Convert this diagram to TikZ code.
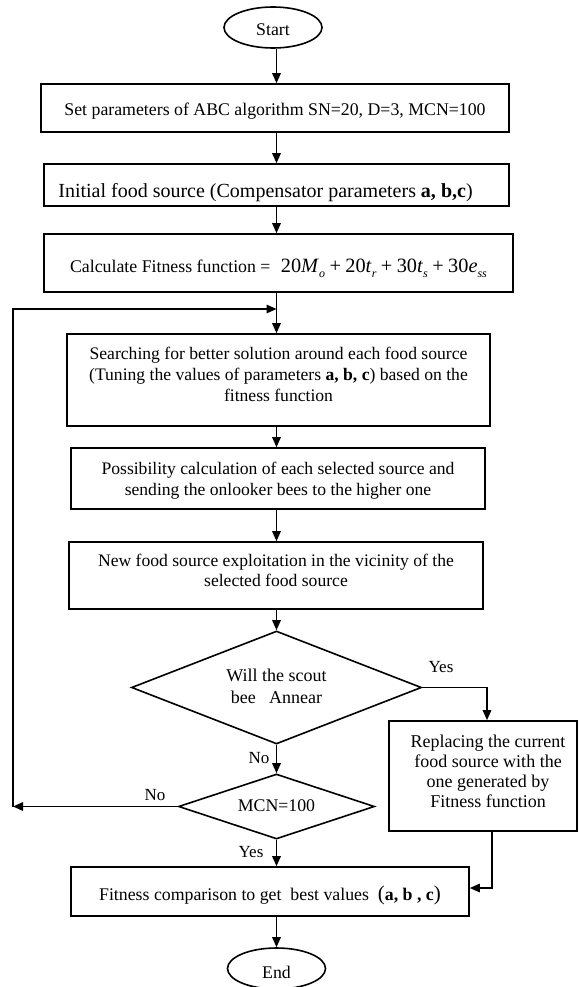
\documentclass[tikz,border=0pt]{standalone}
\usepackage{fontspec}
\setmainfont{Liberation Serif}
\usetikzlibrary{shapes.geometric,arrows.meta}
\newcommand{\lns}[1]{\begin{tabular}[t]{@{}c@{}}#1\end{tabular}}
\newcommand{\lnsr}[1]{\begin{tabular}[t]{@{\hspace{10pt}}c@{}}#1\end{tabular}}
\newcommand{\sbs}[1]{\raisebox{-0.28em}{\fontsize{12}{12}\selectfont\itshape #1}}
\newcommand{\pl}{\hspace{0.22em}+\hspace{0.22em}}
\newcommand{\tmsf}{\fontsize{17.6}{21}\selectfont}
\newcommand{\cmbf}{\fontsize{17.8}{20}\selectfont}
\begin{document}
\begin{tikzpicture}[x=1pt,y=-1pt,
  box/.style={draw, rectangle, line width=1.6pt, inner sep=0pt},
  oval/.style={draw, ellipse, line width=1.6pt, inner sep=0pt, minimum width=98pt, minimum height=41pt, font=\cmbf},
  dia/.style={draw, diamond, line width=1.6pt, inner sep=0pt},
  arr/.style={-{Triangle[length=10pt,width=8.5pt]}, line width=1.5pt},
  lbl/.style={font=\fontsize{17}{20}\selectfont, anchor=base, inner sep=0pt}]
\useasboundingbox (0,0) rectangle (579,987);
\coordinate (ax) at (276.5,0);
\node[oval, text height=17pt, text depth=0pt] (start) at (273,27.5) {Start};
\node[box, minimum width=468pt, minimum height=48pt, text height=16pt, text depth=0pt, font=\cmbf] (b1) at (275,108)
  {Set parameters of ABC algorithm SN=20, D=3, MCN=100};
\node[box, minimum width=465pt, minimum height=42pt, text height=24pt, text depth=0pt, font=\fontsize{20}{24}\selectfont] (b2) at (276.5,185)
  {Initial food source (Compensator parameters \textbf{a, b,c})\hspace*{22pt}};
\node[box, minimum width=469pt, minimum height=58pt, text height=18pt, text depth=0pt, font=\cmbf] (b3) at (278.5,263)
  {Calculate Fitness function =\hspace{6pt} {\fontsize{20.3}{24}\selectfont 20\textit{M}\sbs{o}\pl 20\textit{t}\sbs{r}\pl 30\textit{t}\sbs{s}\pl 30\textit{e}\sbs{ss}}};
\node[box, minimum width=423pt, minimum height=92pt, text height=0pt, text depth=42pt, font=\tmsf] (b4) at (278.5,380)
  {\lns{Searching for better solution around each food source\\(Tuning the values of parameters \textbf{a, b, c}) based on the\\fitness function}};
\node[box, minimum width=414pt, minimum height=61pt, text height=0pt, text depth=9pt, font=\tmsf] (b5) at (278,478.5)
  {\lns{Possibility calculation of each selected source and\\sending the onlooker bees to the higher one}};
\node[box, minimum width=414pt, minimum height=67pt, text height=0pt, text depth=19pt, font=\fontsize{17.6}{20}\selectfont] (b6) at (276,575.5)
  {\lns{New food source exploitation in the vicinity of the\\selected food source}};
\node[dia, aspect=2.5, minimum width=290pt, minimum height=113pt, text height=0pt, text depth=12pt, font=\fontsize{18}{22}\selectfont] (d1) at (276.5,687.5)
  {\lns{Will the scout\\bee\ \ \ Annear}};
\node[dia, aspect=3, minimum width=196pt, minimum height=65pt, text height=9pt, text depth=0pt, font=\cmbf] (d2) at (276.5,806.5)
  {MCN=100};
\node[box, minimum width=188pt, minimum height=110pt, text height=0pt, text depth=58pt, font=\fontsize{18}{20}\selectfont] (b7) at (483,776)
  {\lnsr{Replacing the current\\food source with the\\one generated by\\Fitness function}};
\node[box, minimum width=398pt, minimum height=49pt, text height=17pt, text depth=0pt, font=\cmbf] (b8) at (270,891.5)
  {Fitness comparison to get\ \ best values\ \ {\fontsize{21}{21}\selectfont(}\textbf{a, b , c}{\fontsize{21}{21}\selectfont)}};
\node[oval, text height=19pt, text depth=0pt] (end) at (276.5,968.5) {End};
% labels
\node[lbl] (yes1) at (441,672) {Yes};
\node[lbl] (no1) at (259,763) {No};
\node[lbl] (no2) at (155,800) {No};
\node[lbl] (yes2) at (251,857) {Yes};
% connectors
\coordinate (lt) at (13,309);
\coordinate (yb) at (487,0);
\coordinate (yc) at (492,888);
\draw[arr] (start.south -| ax) -- (b1.north -| ax);
\draw[arr] (b1.south -| ax) -- (b2.north -| ax);
\draw[arr] (b2.south -| ax) -- (b3.north -| ax);
\draw[arr] (b3.south -| ax) -- (b4.north -| ax);
\draw[arr] (b4.south -| ax) -- (b5.north -| ax);
\draw[arr] (b5.south -| ax) -- (b6.north -| ax);
\draw[arr] (b6.south -| ax) -- (d1.north);
\draw[arr] (d1.south) -- (d2.north);
\draw[arr] (d2.south) -- (b8.north -| ax);
\draw[arr] (b8.south -| ax) -- (end.north);
\draw[arr] (d1.east) -| (yb |- b7.north);
\draw[arr] (b7.south -| yc) |- (b8.east |- yc);
\draw[arr] (d2.west) -- (d2.west -| lt);
\draw[arr] (d2.west -| lt) -- (lt) -- (ax |- lt);
\end{tikzpicture}
\end{document}
